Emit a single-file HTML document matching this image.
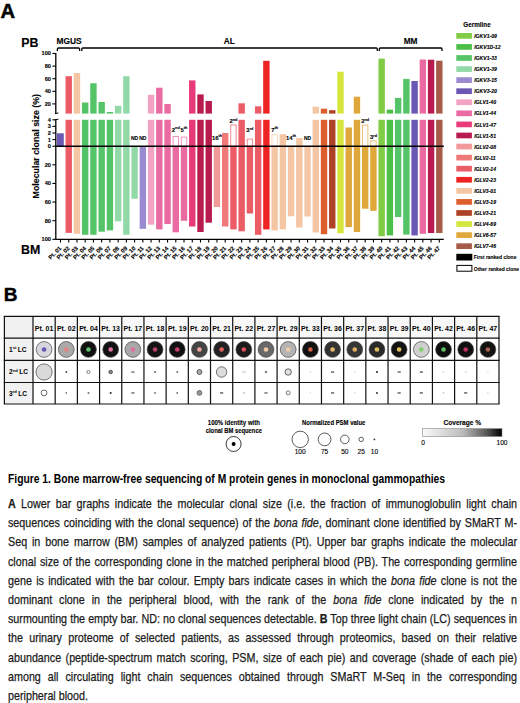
<!DOCTYPE html>
<html><head><meta charset="utf-8"><style>
html,body{margin:0;padding:0;background:#fff;}
body{width:520px;height:703px;position:relative;overflow:hidden;font-family:"Liberation Sans", sans-serif;color:#000;}
svg{position:absolute;left:0;top:0;}
svg text{font-family:"Liberation Sans", sans-serif;fill:#000;stroke:#000;stroke-width:0.12px;}
.cl{position:absolute;left:8.2px;width:606.63px;font-size:12.8px;line-height:14px;height:14px;transform:scaleX(0.8390624999999999);transform-origin:0 0;color:#1a1a1a;-webkit-text-stroke:0.25px #1a1a1a;}
.ttl{position:absolute;left:8.2px;top:471.8px;font-size:12px;line-height:14px;font-weight:bold;white-space:nowrap;transform:scaleX(0.859);transform-origin:0 0;color:#000;}
</style></head><body>
<svg width="520" height="703" viewBox="0 0 520 703">
<rect x="56.9" y="133.3" width="6.9" height="12.90" fill="#6a58b4"/>
<rect x="65.53" y="76.2" width="6.4" height="37.40" fill="#ec5c66"/>
<rect x="65.53" y="119.8" width="6.4" height="26.40" fill="#ec5c66"/>
<rect x="65.53" y="146.2" width="6.4" height="86.70" fill="#ec5c66"/>
<rect x="73.77" y="73.0" width="6.4" height="40.60" fill="#f5c6a4"/>
<rect x="73.77" y="119.8" width="6.4" height="26.40" fill="#f5c6a4"/>
<rect x="73.77" y="146.2" width="6.4" height="87.60" fill="#f5c6a4"/>
<rect x="82.00" y="102.5" width="6.4" height="11.10" fill="#55c468"/>
<rect x="82.00" y="119.8" width="6.4" height="26.40" fill="#55c468"/>
<rect x="82.00" y="146.2" width="6.4" height="88.60" fill="#55c468"/>
<rect x="90.24" y="83.3" width="6.4" height="30.30" fill="#55c468"/>
<rect x="90.24" y="119.8" width="6.4" height="26.40" fill="#55c468"/>
<rect x="90.24" y="146.2" width="6.4" height="88.60" fill="#55c468"/>
<rect x="98.47" y="102.0" width="6.4" height="11.60" fill="#55c468"/>
<rect x="98.47" y="119.8" width="6.4" height="26.40" fill="#55c468"/>
<rect x="98.47" y="146.2" width="6.4" height="85.50" fill="#55c468"/>
<rect x="106.71" y="112.0" width="6.4" height="1.60" fill="#55c468"/>
<rect x="106.71" y="119.8" width="6.4" height="26.40" fill="#55c468"/>
<rect x="106.71" y="146.2" width="6.4" height="84.20" fill="#55c468"/>
<rect x="114.94" y="105.8" width="6.4" height="7.80" fill="#92d9a8"/>
<rect x="114.94" y="119.8" width="6.4" height="26.40" fill="#92d9a8"/>
<rect x="114.94" y="146.2" width="6.4" height="75.10" fill="#92d9a8"/>
<rect x="123.18" y="76.2" width="6.4" height="37.40" fill="#92d9a8"/>
<rect x="123.18" y="119.8" width="6.4" height="26.40" fill="#92d9a8"/>
<rect x="123.18" y="146.2" width="6.4" height="88.60" fill="#92d9a8"/>
<rect x="131.41" y="146.2" width="6.4" height="52.60" fill="#92d9a8"/>
<text x="131.01" y="139.50" font-size="5.4" font-weight="bold" textLength="7.2" lengthAdjust="spacingAndGlyphs">ND</text>
<rect x="139.65" y="146.2" width="6.4" height="82.60" fill="#9a8ad0"/>
<text x="139.25" y="139.50" font-size="5.4" font-weight="bold" textLength="7.2" lengthAdjust="spacingAndGlyphs">ND</text>
<rect x="147.88" y="94.8" width="6.4" height="18.80" fill="#f2a2c2"/>
<rect x="147.88" y="119.8" width="6.4" height="26.40" fill="#f2a2c2"/>
<rect x="147.88" y="146.2" width="6.4" height="78.40" fill="#f2a2c2"/>
<rect x="156.12" y="87.7" width="6.4" height="25.90" fill="#ea6aa2"/>
<rect x="156.12" y="119.8" width="6.4" height="26.40" fill="#ea6aa2"/>
<rect x="156.12" y="146.2" width="6.4" height="83.20" fill="#ea6aa2"/>
<rect x="164.35" y="104.0" width="6.4" height="9.60" fill="#ea6aa2"/>
<rect x="164.35" y="119.8" width="6.4" height="26.40" fill="#ea6aa2"/>
<rect x="164.35" y="146.2" width="6.4" height="77.80" fill="#ea6aa2"/>
<rect x="173.09" y="136.5" width="5.4" height="9.70" fill="#fff" stroke="#ea6aa2" stroke-width="0.9" stroke-opacity="0.8"/>
<rect x="172.59" y="146.2" width="6.4" height="86.10" fill="#ea6aa2"/>
<text x="175.79" y="131.50" font-size="5.9" font-weight="bold" text-anchor="middle">2<tspan font-size="3.8" dy="-2.1">nd</tspan></text>
<rect x="181.32" y="137.1" width="5.4" height="9.10" fill="#fff" stroke="#ea6aa2" stroke-width="0.9" stroke-opacity="0.8"/>
<rect x="180.82" y="146.2" width="6.4" height="74.60" fill="#ea6aa2"/>
<text x="184.02" y="131.50" font-size="5.9" font-weight="bold" text-anchor="middle">5<tspan font-size="3.8" dy="-2.1">th</tspan></text>
<rect x="189.06" y="80.4" width="6.4" height="33.20" fill="#e83a78"/>
<rect x="189.06" y="119.8" width="6.4" height="26.40" fill="#e83a78"/>
<rect x="189.06" y="146.2" width="6.4" height="80.30" fill="#e83a78"/>
<rect x="197.30" y="94.4" width="6.4" height="19.20" fill="#b81c4e"/>
<rect x="197.30" y="119.8" width="6.4" height="26.40" fill="#b81c4e"/>
<rect x="197.30" y="146.2" width="6.4" height="85.80" fill="#b81c4e"/>
<rect x="205.53" y="101.0" width="6.4" height="12.60" fill="#b81c4e"/>
<rect x="205.53" y="119.8" width="6.4" height="26.40" fill="#b81c4e"/>
<rect x="205.53" y="146.2" width="6.4" height="76.50" fill="#b81c4e"/>
<rect x="213.76" y="146.2" width="6.4" height="60.80" fill="#f29a9a"/>
<text x="216.96" y="139.50" font-size="5.9" font-weight="bold" text-anchor="middle">16<tspan font-size="3.8" dy="-2.1">th</tspan></text>
<rect x="222.00" y="133.0" width="6.4" height="13.20" fill="#f07a7a"/>
<rect x="222.00" y="146.2" width="6.4" height="80.30" fill="#f07a7a"/>
<rect x="230.74" y="125.0" width="5.4" height="21.20" fill="#fff" stroke="#ec5c66" stroke-width="0.9" stroke-opacity="0.8"/>
<rect x="230.24" y="146.2" width="6.4" height="83.20" fill="#ec5c66"/>
<text x="233.44" y="123.00" font-size="5.9" font-weight="bold" text-anchor="middle">2<tspan font-size="3.8" dy="-2.1">nd</tspan></text>
<rect x="238.47" y="103.3" width="6.4" height="10.30" fill="#ec5c66"/>
<rect x="238.47" y="119.8" width="6.4" height="26.40" fill="#ec5c66"/>
<rect x="238.47" y="146.2" width="6.4" height="85.10" fill="#ec5c66"/>
<rect x="247.20" y="139.1" width="5.4" height="7.10" fill="#fff" stroke="#ec5c66" stroke-width="0.9" stroke-opacity="0.8"/>
<rect x="246.70" y="146.2" width="6.4" height="67.30" fill="#ec5c66"/>
<text x="249.90" y="131.60" font-size="5.9" font-weight="bold" text-anchor="middle">3<tspan font-size="3.8" dy="-2.1">rd</tspan></text>
<rect x="254.94" y="106.3" width="6.4" height="7.30" fill="#ec5c66"/>
<rect x="254.94" y="119.8" width="6.4" height="26.40" fill="#ec5c66"/>
<rect x="254.94" y="146.2" width="6.4" height="88.60" fill="#ec5c66"/>
<rect x="263.18" y="60.8" width="6.4" height="52.80" fill="#ee2424"/>
<rect x="263.18" y="119.8" width="6.4" height="26.40" fill="#ee2424"/>
<rect x="263.18" y="146.2" width="6.4" height="83.20" fill="#ee2424"/>
<rect x="271.91" y="134.7" width="5.4" height="11.50" fill="#fff" stroke="#f5c6a4" stroke-width="0.9" stroke-opacity="0.8"/>
<rect x="271.41" y="146.2" width="6.4" height="84.20" fill="#f5c6a4"/>
<text x="274.61" y="131.50" font-size="5.9" font-weight="bold" text-anchor="middle">7<tspan font-size="3.8" dy="-2.1">th</tspan></text>
<rect x="279.64" y="134.2" width="6.4" height="12.00" fill="#f5c6a4"/>
<rect x="279.64" y="146.2" width="6.4" height="83.20" fill="#f5c6a4"/>
<rect x="287.88" y="146.2" width="6.4" height="70.10" fill="#f5c6a4"/>
<text x="291.08" y="139.50" font-size="5.9" font-weight="bold" text-anchor="middle">14<tspan font-size="3.8" dy="-2.1">th</tspan></text>
<rect x="296.12" y="138.0" width="6.4" height="8.20" fill="#f5c6a4"/>
<rect x="296.12" y="146.2" width="6.4" height="81.30" fill="#f5c6a4"/>
<rect x="304.35" y="146.2" width="6.4" height="70.30" fill="#f5c6a4"/>
<text x="303.95" y="139.50" font-size="5.4" font-weight="bold" textLength="7.2" lengthAdjust="spacingAndGlyphs">ND</text>
<rect x="312.58" y="106.7" width="6.4" height="6.90" fill="#f5c6a4"/>
<rect x="312.58" y="119.8" width="6.4" height="26.40" fill="#f5c6a4"/>
<rect x="312.58" y="146.2" width="6.4" height="86.30" fill="#f5c6a4"/>
<rect x="320.82" y="108.7" width="6.4" height="4.90" fill="#de5e2e"/>
<rect x="320.82" y="119.8" width="6.4" height="26.40" fill="#de5e2e"/>
<rect x="320.82" y="146.2" width="6.4" height="88.00" fill="#de5e2e"/>
<rect x="329.06" y="110.2" width="6.4" height="3.40" fill="#ae4226"/>
<rect x="329.06" y="119.8" width="6.4" height="26.40" fill="#ae4226"/>
<rect x="329.06" y="146.2" width="6.4" height="82.30" fill="#ae4226"/>
<rect x="337.29" y="71.7" width="6.4" height="41.90" fill="#d6e63c"/>
<rect x="337.29" y="119.8" width="6.4" height="26.40" fill="#d6e63c"/>
<rect x="337.29" y="146.2" width="6.4" height="87.10" fill="#d6e63c"/>
<rect x="345.52" y="127.5" width="6.4" height="18.70" fill="#e0a83a"/>
<rect x="345.52" y="146.2" width="6.4" height="80.90" fill="#e0a83a"/>
<rect x="353.76" y="96.7" width="6.4" height="16.90" fill="#e0a83a"/>
<rect x="353.76" y="119.8" width="6.4" height="26.40" fill="#e0a83a"/>
<rect x="353.76" y="146.2" width="6.4" height="85.80" fill="#e0a83a"/>
<rect x="362.50" y="125.1" width="5.4" height="21.10" fill="#fff" stroke="#e0a83a" stroke-width="0.9" stroke-opacity="0.8"/>
<rect x="362.00" y="146.2" width="6.4" height="62.50" fill="#e0a83a"/>
<text x="365.19" y="122.80" font-size="5.9" font-weight="bold" text-anchor="middle">2<tspan font-size="3.8" dy="-2.1">nd</tspan></text>
<rect x="370.73" y="140.9" width="5.4" height="5.30" fill="#fff" stroke="#e0a83a" stroke-width="0.9" stroke-opacity="0.8"/>
<rect x="370.23" y="146.2" width="6.4" height="64.60" fill="#e0a83a"/>
<text x="373.43" y="139.20" font-size="5.9" font-weight="bold" text-anchor="middle">3<tspan font-size="3.8" dy="-2.1">rd</tspan></text>
<rect x="378.46" y="58.6" width="6.4" height="55.00" fill="#80cc44"/>
<rect x="378.46" y="119.8" width="6.4" height="26.40" fill="#80cc44"/>
<rect x="378.46" y="146.2" width="6.4" height="90.00" fill="#80cc44"/>
<rect x="386.70" y="109.6" width="6.4" height="4.00" fill="#4cbf48"/>
<rect x="386.70" y="119.8" width="6.4" height="26.40" fill="#4cbf48"/>
<rect x="386.70" y="146.2" width="6.4" height="89.20" fill="#4cbf48"/>
<rect x="394.94" y="97.9" width="6.4" height="15.70" fill="#55c468"/>
<rect x="394.94" y="119.8" width="6.4" height="26.40" fill="#55c468"/>
<rect x="394.94" y="146.2" width="6.4" height="70.80" fill="#55c468"/>
<rect x="403.17" y="78.9" width="6.4" height="34.70" fill="#55c468"/>
<rect x="403.17" y="119.8" width="6.4" height="26.40" fill="#55c468"/>
<rect x="403.17" y="146.2" width="6.4" height="88.40" fill="#55c468"/>
<rect x="411.40" y="81.0" width="6.4" height="32.60" fill="#6a58b4"/>
<rect x="411.40" y="119.8" width="6.4" height="26.40" fill="#6a58b4"/>
<rect x="411.40" y="146.2" width="6.4" height="89.20" fill="#6a58b4"/>
<rect x="419.64" y="59.5" width="6.4" height="54.10" fill="#ea6aa2"/>
<rect x="419.64" y="119.8" width="6.4" height="26.40" fill="#ea6aa2"/>
<rect x="419.64" y="146.2" width="6.4" height="87.60" fill="#ea6aa2"/>
<rect x="427.88" y="59.7" width="6.4" height="53.90" fill="#b81c4e"/>
<rect x="427.88" y="119.8" width="6.4" height="26.40" fill="#b81c4e"/>
<rect x="427.88" y="146.2" width="6.4" height="86.80" fill="#b81c4e"/>
<rect x="436.11" y="60.7" width="6.4" height="52.90" fill="#a85a48"/>
<rect x="436.11" y="119.8" width="6.4" height="26.40" fill="#a85a48"/>
<rect x="436.11" y="146.2" width="6.4" height="86.80" fill="#a85a48"/>
<line x1="55.8" y1="146.2" x2="443.8" y2="146.2" stroke="#000" stroke-width="1.5"/>
<line x1="55.8" y1="53.0" x2="55.8" y2="113.6" stroke="#000" stroke-width="1.3"/>
<line x1="55.8" y1="119.8" x2="55.8" y2="239.3" stroke="#000" stroke-width="1.3"/>
<line x1="54.8" y1="113.6" x2="58.4" y2="113.0" stroke="#000" stroke-width="1"/>
<line x1="54.8" y1="119.8" x2="58.4" y2="119.2" stroke="#000" stroke-width="1"/>
<line x1="52.4" y1="53.50" x2="55.8" y2="53.50" stroke="#000" stroke-width="1.1"/>
<text x="50.9" y="55.40" font-size="5.6" font-weight="bold" text-anchor="end">100</text>
<line x1="52.4" y1="66.10" x2="55.8" y2="66.10" stroke="#000" stroke-width="1.1"/>
<text x="50.9" y="68.00" font-size="5.6" font-weight="bold" text-anchor="end">80</text>
<line x1="52.4" y1="78.70" x2="55.8" y2="78.70" stroke="#000" stroke-width="1.1"/>
<text x="50.9" y="80.60" font-size="5.6" font-weight="bold" text-anchor="end">60</text>
<line x1="52.4" y1="91.30" x2="55.8" y2="91.30" stroke="#000" stroke-width="1.1"/>
<text x="50.9" y="93.20" font-size="5.6" font-weight="bold" text-anchor="end">40</text>
<line x1="52.4" y1="103.90" x2="55.8" y2="103.90" stroke="#000" stroke-width="1.1"/>
<text x="50.9" y="105.80" font-size="5.6" font-weight="bold" text-anchor="end">20</text>
<line x1="52.4" y1="119.80" x2="55.8" y2="119.80" stroke="#000" stroke-width="1.1"/>
<text x="50.9" y="121.70" font-size="5.6" font-weight="bold" text-anchor="end">4</text>
<line x1="52.4" y1="126.40" x2="55.8" y2="126.40" stroke="#000" stroke-width="1.1"/>
<text x="50.9" y="128.30" font-size="5.6" font-weight="bold" text-anchor="end">3</text>
<line x1="52.4" y1="133.00" x2="55.8" y2="133.00" stroke="#000" stroke-width="1.1"/>
<text x="50.9" y="134.90" font-size="5.6" font-weight="bold" text-anchor="end">2</text>
<line x1="52.4" y1="139.60" x2="55.8" y2="139.60" stroke="#000" stroke-width="1.1"/>
<text x="50.9" y="141.50" font-size="5.6" font-weight="bold" text-anchor="end">1</text>
<line x1="52.4" y1="146.20" x2="55.8" y2="146.20" stroke="#000" stroke-width="1.1"/>
<text x="50.9" y="148.10" font-size="5.6" font-weight="bold" text-anchor="end">0</text>
<line x1="52.4" y1="164.82" x2="55.8" y2="164.82" stroke="#000" stroke-width="1.1"/>
<text x="50.9" y="166.72" font-size="5.6" font-weight="bold" text-anchor="end">20</text>
<line x1="52.4" y1="183.44" x2="55.8" y2="183.44" stroke="#000" stroke-width="1.1"/>
<text x="50.9" y="185.34" font-size="5.6" font-weight="bold" text-anchor="end">40</text>
<line x1="52.4" y1="202.06" x2="55.8" y2="202.06" stroke="#000" stroke-width="1.1"/>
<text x="50.9" y="203.96" font-size="5.6" font-weight="bold" text-anchor="end">60</text>
<line x1="52.4" y1="220.68" x2="55.8" y2="220.68" stroke="#000" stroke-width="1.1"/>
<text x="50.9" y="222.58" font-size="5.6" font-weight="bold" text-anchor="end">80</text>
<line x1="52.4" y1="239.30" x2="55.8" y2="239.30" stroke="#000" stroke-width="1.1"/>
<text x="50.9" y="241.20" font-size="5.6" font-weight="bold" text-anchor="end">100</text>
<line x1="55.199999999999996" y1="239.3" x2="443.8" y2="239.3" stroke="#000" stroke-width="1.3"/>
<line x1="60.50" y1="239.3" x2="60.50" y2="242.5" stroke="#000" stroke-width="1.1"/>
<text transform="translate(61.80,248.70000000000002) rotate(-45)" font-size="5.8" font-weight="bold" text-anchor="end">Pt. 01</text>
<line x1="68.73" y1="239.3" x2="68.73" y2="242.5" stroke="#000" stroke-width="1.1"/>
<text transform="translate(70.03,248.70000000000002) rotate(-45)" font-size="5.8" font-weight="bold" text-anchor="end">Pt. 02</text>
<line x1="76.97" y1="239.3" x2="76.97" y2="242.5" stroke="#000" stroke-width="1.1"/>
<text transform="translate(78.27,248.70000000000002) rotate(-45)" font-size="5.8" font-weight="bold" text-anchor="end">Pt. 03</text>
<line x1="85.20" y1="239.3" x2="85.20" y2="242.5" stroke="#000" stroke-width="1.1"/>
<text transform="translate(86.50,248.70000000000002) rotate(-45)" font-size="5.8" font-weight="bold" text-anchor="end">Pt. 04</text>
<line x1="93.44" y1="239.3" x2="93.44" y2="242.5" stroke="#000" stroke-width="1.1"/>
<text transform="translate(94.74,248.70000000000002) rotate(-45)" font-size="5.8" font-weight="bold" text-anchor="end">Pt. 05</text>
<line x1="101.67" y1="239.3" x2="101.67" y2="242.5" stroke="#000" stroke-width="1.1"/>
<text transform="translate(102.97,248.70000000000002) rotate(-45)" font-size="5.8" font-weight="bold" text-anchor="end">Pt. 06</text>
<line x1="109.91" y1="239.3" x2="109.91" y2="242.5" stroke="#000" stroke-width="1.1"/>
<text transform="translate(111.21,248.70000000000002) rotate(-45)" font-size="5.8" font-weight="bold" text-anchor="end">Pt. 07</text>
<line x1="118.14" y1="239.3" x2="118.14" y2="242.5" stroke="#000" stroke-width="1.1"/>
<text transform="translate(119.44,248.70000000000002) rotate(-45)" font-size="5.8" font-weight="bold" text-anchor="end">Pt. 08</text>
<line x1="126.38" y1="239.3" x2="126.38" y2="242.5" stroke="#000" stroke-width="1.1"/>
<text transform="translate(127.68,248.70000000000002) rotate(-45)" font-size="5.8" font-weight="bold" text-anchor="end">Pt. 09</text>
<line x1="134.61" y1="239.3" x2="134.61" y2="242.5" stroke="#000" stroke-width="1.1"/>
<text transform="translate(135.91,248.70000000000002) rotate(-45)" font-size="5.8" font-weight="bold" text-anchor="end">Pt. 10</text>
<line x1="142.85" y1="239.3" x2="142.85" y2="242.5" stroke="#000" stroke-width="1.1"/>
<text transform="translate(144.15,248.70000000000002) rotate(-45)" font-size="5.8" font-weight="bold" text-anchor="end">Pt. 11</text>
<line x1="151.08" y1="239.3" x2="151.08" y2="242.5" stroke="#000" stroke-width="1.1"/>
<text transform="translate(152.38,248.70000000000002) rotate(-45)" font-size="5.8" font-weight="bold" text-anchor="end">Pt. 12</text>
<line x1="159.32" y1="239.3" x2="159.32" y2="242.5" stroke="#000" stroke-width="1.1"/>
<text transform="translate(160.62,248.70000000000002) rotate(-45)" font-size="5.8" font-weight="bold" text-anchor="end">Pt. 13</text>
<line x1="167.55" y1="239.3" x2="167.55" y2="242.5" stroke="#000" stroke-width="1.1"/>
<text transform="translate(168.85,248.70000000000002) rotate(-45)" font-size="5.8" font-weight="bold" text-anchor="end">Pt. 14</text>
<line x1="175.79" y1="239.3" x2="175.79" y2="242.5" stroke="#000" stroke-width="1.1"/>
<text transform="translate(177.09,248.70000000000002) rotate(-45)" font-size="5.8" font-weight="bold" text-anchor="end">Pt. 15</text>
<line x1="184.02" y1="239.3" x2="184.02" y2="242.5" stroke="#000" stroke-width="1.1"/>
<text transform="translate(185.32,248.70000000000002) rotate(-45)" font-size="5.8" font-weight="bold" text-anchor="end">Pt. 16</text>
<line x1="192.26" y1="239.3" x2="192.26" y2="242.5" stroke="#000" stroke-width="1.1"/>
<text transform="translate(193.56,248.70000000000002) rotate(-45)" font-size="5.8" font-weight="bold" text-anchor="end">Pt. 17</text>
<line x1="200.50" y1="239.3" x2="200.50" y2="242.5" stroke="#000" stroke-width="1.1"/>
<text transform="translate(201.80,248.70000000000002) rotate(-45)" font-size="5.8" font-weight="bold" text-anchor="end">Pt. 18</text>
<line x1="208.73" y1="239.3" x2="208.73" y2="242.5" stroke="#000" stroke-width="1.1"/>
<text transform="translate(210.03,248.70000000000002) rotate(-45)" font-size="5.8" font-weight="bold" text-anchor="end">Pt. 19</text>
<line x1="216.96" y1="239.3" x2="216.96" y2="242.5" stroke="#000" stroke-width="1.1"/>
<text transform="translate(218.26,248.70000000000002) rotate(-45)" font-size="5.8" font-weight="bold" text-anchor="end">Pt. 20</text>
<line x1="225.20" y1="239.3" x2="225.20" y2="242.5" stroke="#000" stroke-width="1.1"/>
<text transform="translate(226.50,248.70000000000002) rotate(-45)" font-size="5.8" font-weight="bold" text-anchor="end">Pt. 21</text>
<line x1="233.44" y1="239.3" x2="233.44" y2="242.5" stroke="#000" stroke-width="1.1"/>
<text transform="translate(234.74,248.70000000000002) rotate(-45)" font-size="5.8" font-weight="bold" text-anchor="end">Pt. 22</text>
<line x1="241.67" y1="239.3" x2="241.67" y2="242.5" stroke="#000" stroke-width="1.1"/>
<text transform="translate(242.97,248.70000000000002) rotate(-45)" font-size="5.8" font-weight="bold" text-anchor="end">Pt. 23</text>
<line x1="249.90" y1="239.3" x2="249.90" y2="242.5" stroke="#000" stroke-width="1.1"/>
<text transform="translate(251.20,248.70000000000002) rotate(-45)" font-size="5.8" font-weight="bold" text-anchor="end">Pt. 24</text>
<line x1="258.14" y1="239.3" x2="258.14" y2="242.5" stroke="#000" stroke-width="1.1"/>
<text transform="translate(259.44,248.70000000000002) rotate(-45)" font-size="5.8" font-weight="bold" text-anchor="end">Pt. 25</text>
<line x1="266.38" y1="239.3" x2="266.38" y2="242.5" stroke="#000" stroke-width="1.1"/>
<text transform="translate(267.68,248.70000000000002) rotate(-45)" font-size="5.8" font-weight="bold" text-anchor="end">Pt. 26</text>
<line x1="274.61" y1="239.3" x2="274.61" y2="242.5" stroke="#000" stroke-width="1.1"/>
<text transform="translate(275.91,248.70000000000002) rotate(-45)" font-size="5.8" font-weight="bold" text-anchor="end">Pt. 27</text>
<line x1="282.84" y1="239.3" x2="282.84" y2="242.5" stroke="#000" stroke-width="1.1"/>
<text transform="translate(284.14,248.70000000000002) rotate(-45)" font-size="5.8" font-weight="bold" text-anchor="end">Pt. 28</text>
<line x1="291.08" y1="239.3" x2="291.08" y2="242.5" stroke="#000" stroke-width="1.1"/>
<text transform="translate(292.38,248.70000000000002) rotate(-45)" font-size="5.8" font-weight="bold" text-anchor="end">Pt. 29</text>
<line x1="299.31" y1="239.3" x2="299.31" y2="242.5" stroke="#000" stroke-width="1.1"/>
<text transform="translate(300.62,248.70000000000002) rotate(-45)" font-size="5.8" font-weight="bold" text-anchor="end">Pt. 30</text>
<line x1="307.55" y1="239.3" x2="307.55" y2="242.5" stroke="#000" stroke-width="1.1"/>
<text transform="translate(308.85,248.70000000000002) rotate(-45)" font-size="5.8" font-weight="bold" text-anchor="end">Pt. 31</text>
<line x1="315.78" y1="239.3" x2="315.78" y2="242.5" stroke="#000" stroke-width="1.1"/>
<text transform="translate(317.08,248.70000000000002) rotate(-45)" font-size="5.8" font-weight="bold" text-anchor="end">Pt. 32</text>
<line x1="324.02" y1="239.3" x2="324.02" y2="242.5" stroke="#000" stroke-width="1.1"/>
<text transform="translate(325.32,248.70000000000002) rotate(-45)" font-size="5.8" font-weight="bold" text-anchor="end">Pt. 33</text>
<line x1="332.25" y1="239.3" x2="332.25" y2="242.5" stroke="#000" stroke-width="1.1"/>
<text transform="translate(333.56,248.70000000000002) rotate(-45)" font-size="5.8" font-weight="bold" text-anchor="end">Pt. 34</text>
<line x1="340.49" y1="239.3" x2="340.49" y2="242.5" stroke="#000" stroke-width="1.1"/>
<text transform="translate(341.79,248.70000000000002) rotate(-45)" font-size="5.8" font-weight="bold" text-anchor="end">Pt. 35</text>
<line x1="348.72" y1="239.3" x2="348.72" y2="242.5" stroke="#000" stroke-width="1.1"/>
<text transform="translate(350.02,248.70000000000002) rotate(-45)" font-size="5.8" font-weight="bold" text-anchor="end">Pt. 36</text>
<line x1="356.96" y1="239.3" x2="356.96" y2="242.5" stroke="#000" stroke-width="1.1"/>
<text transform="translate(358.26,248.70000000000002) rotate(-45)" font-size="5.8" font-weight="bold" text-anchor="end">Pt. 37</text>
<line x1="365.19" y1="239.3" x2="365.19" y2="242.5" stroke="#000" stroke-width="1.1"/>
<text transform="translate(366.50,248.70000000000002) rotate(-45)" font-size="5.8" font-weight="bold" text-anchor="end">Pt. 38</text>
<line x1="373.43" y1="239.3" x2="373.43" y2="242.5" stroke="#000" stroke-width="1.1"/>
<text transform="translate(374.73,248.70000000000002) rotate(-45)" font-size="5.8" font-weight="bold" text-anchor="end">Pt. 39</text>
<line x1="381.66" y1="239.3" x2="381.66" y2="242.5" stroke="#000" stroke-width="1.1"/>
<text transform="translate(382.96,248.70000000000002) rotate(-45)" font-size="5.8" font-weight="bold" text-anchor="end">Pt. 40</text>
<line x1="389.90" y1="239.3" x2="389.90" y2="242.5" stroke="#000" stroke-width="1.1"/>
<text transform="translate(391.20,248.70000000000002) rotate(-45)" font-size="5.8" font-weight="bold" text-anchor="end">Pt. 41</text>
<line x1="398.13" y1="239.3" x2="398.13" y2="242.5" stroke="#000" stroke-width="1.1"/>
<text transform="translate(399.44,248.70000000000002) rotate(-45)" font-size="5.8" font-weight="bold" text-anchor="end">Pt. 42</text>
<line x1="406.37" y1="239.3" x2="406.37" y2="242.5" stroke="#000" stroke-width="1.1"/>
<text transform="translate(407.67,248.70000000000002) rotate(-45)" font-size="5.8" font-weight="bold" text-anchor="end">Pt. 43</text>
<line x1="414.60" y1="239.3" x2="414.60" y2="242.5" stroke="#000" stroke-width="1.1"/>
<text transform="translate(415.90,248.70000000000002) rotate(-45)" font-size="5.8" font-weight="bold" text-anchor="end">Pt. 44</text>
<line x1="422.84" y1="239.3" x2="422.84" y2="242.5" stroke="#000" stroke-width="1.1"/>
<text transform="translate(424.14,248.70000000000002) rotate(-45)" font-size="5.8" font-weight="bold" text-anchor="end">Pt. 45</text>
<line x1="431.07" y1="239.3" x2="431.07" y2="242.5" stroke="#000" stroke-width="1.1"/>
<text transform="translate(432.38,248.70000000000002) rotate(-45)" font-size="5.8" font-weight="bold" text-anchor="end">Pt. 46</text>
<line x1="439.31" y1="239.3" x2="439.31" y2="242.5" stroke="#000" stroke-width="1.1"/>
<text transform="translate(440.61,248.70000000000002) rotate(-45)" font-size="5.8" font-weight="bold" text-anchor="end">Pt. 47</text>
<path d="M57.4 50.9 V49.0 Q57.4 48.0 58.4 48.0 H78.6 Q79.6 48.0 79.6 49.0 V50.9" fill="none" stroke="#000" stroke-width="1.3"/>
<path d="M81.8 50.9 V49.0 Q81.8 48.0 82.8 48.0 H376.3 Q377.3 48.0 377.3 49.0 V50.9" fill="none" stroke="#000" stroke-width="1.3"/>
<path d="M379.3 50.9 V49.0 Q379.3 48.0 380.3 48.0 H441.0 Q442.0 48.0 442.0 49.0 V50.9" fill="none" stroke="#000" stroke-width="1.3"/>
<text x="69.05" y="43.9" font-size="8.4" font-weight="bold" text-anchor="middle">MGUS</text>
<text x="229.2" y="44.1" font-size="8.2" font-weight="bold" text-anchor="middle">AL</text>
<text x="410.6" y="44.0" font-size="8.3" font-weight="bold" text-anchor="middle">MM</text>
<text x="0.5" y="17.8" font-size="20.2" font-weight="bold" style="stroke-width:0.5px">A</text>
<text x="21.2" y="46.6" font-size="12.4" font-weight="bold">PB</text>
<text x="21.0" y="253.7" font-size="12.4" font-weight="bold">BM</text>
<text x="3.8" y="301" font-size="19" font-weight="bold" style="stroke-width:0.4px">B</text>
<text transform="translate(38.5,146.2) rotate(-90)" font-size="9.7" font-weight="bold" text-anchor="middle" textLength="104.5" lengthAdjust="spacingAndGlyphs">Molecular clonal size (%)</text>
<text x="477" y="27.1" font-size="6.3" font-weight="bold" text-anchor="middle">Germline</text>
<rect x="456.3" y="33.00" width="15.6" height="5.7" fill="#80cc44"/>
<text x="474.2" y="38.00" font-size="5.1" font-weight="bold" font-style="italic">IGKV1-09</text>
<rect x="456.3" y="44.07" width="15.6" height="5.7" fill="#4cbf48"/>
<text x="474.2" y="49.07" font-size="5.1" font-weight="bold" font-style="italic">IGKV1D-12</text>
<rect x="456.3" y="55.14" width="15.6" height="5.7" fill="#55c468"/>
<text x="474.2" y="60.14" font-size="5.1" font-weight="bold" font-style="italic">IGKV1-33</text>
<rect x="456.3" y="66.21" width="15.6" height="5.7" fill="#92d9a8"/>
<text x="474.2" y="71.21" font-size="5.1" font-weight="bold" font-style="italic">IGKV1-39</text>
<rect x="456.3" y="77.28" width="15.6" height="5.7" fill="#9a8ad0"/>
<text x="474.2" y="82.28" font-size="5.1" font-weight="bold" font-style="italic">IGKV3-15</text>
<rect x="456.3" y="88.35" width="15.6" height="5.7" fill="#6a58b4"/>
<text x="474.2" y="93.35" font-size="5.1" font-weight="bold" font-style="italic">IGKV3-20</text>
<rect x="456.3" y="99.42" width="15.6" height="5.7" fill="#f2a2c2"/>
<text x="474.2" y="104.42" font-size="5.1" font-weight="bold" font-style="italic">IGLV1-40</text>
<rect x="456.3" y="110.49" width="15.6" height="5.7" fill="#ea6aa2"/>
<text x="474.2" y="115.49" font-size="5.1" font-weight="bold" font-style="italic">IGLV1-44</text>
<rect x="456.3" y="121.56" width="15.6" height="5.7" fill="#e83a78"/>
<text x="474.2" y="126.56" font-size="5.1" font-weight="bold" font-style="italic">IGLV1-47</text>
<rect x="456.3" y="132.63" width="15.6" height="5.7" fill="#b81c4e"/>
<text x="474.2" y="137.63" font-size="5.1" font-weight="bold" font-style="italic">IGLV1-51</text>
<rect x="456.3" y="143.70" width="15.6" height="5.7" fill="#f29a9a"/>
<text x="474.2" y="148.70" font-size="5.1" font-weight="bold" font-style="italic">IGLV2-08</text>
<rect x="456.3" y="154.77" width="15.6" height="5.7" fill="#f07a7a"/>
<text x="474.2" y="159.77" font-size="5.1" font-weight="bold" font-style="italic">IGLV2-11</text>
<rect x="456.3" y="165.84" width="15.6" height="5.7" fill="#ec5c66"/>
<text x="474.2" y="170.84" font-size="5.1" font-weight="bold" font-style="italic">IGLV2-14</text>
<rect x="456.3" y="176.91" width="15.6" height="5.7" fill="#ee2424"/>
<text x="474.2" y="181.91" font-size="5.1" font-weight="bold" font-style="italic">IGLV2-23</text>
<rect x="456.3" y="187.98" width="15.6" height="5.7" fill="#f5c6a4"/>
<text x="474.2" y="192.98" font-size="5.1" font-weight="bold" font-style="italic">IGLV3-01</text>
<rect x="456.3" y="199.05" width="15.6" height="5.7" fill="#de5e2e"/>
<text x="474.2" y="204.05" font-size="5.1" font-weight="bold" font-style="italic">IGLV3-19</text>
<rect x="456.3" y="210.12" width="15.6" height="5.7" fill="#ae4226"/>
<text x="474.2" y="215.12" font-size="5.1" font-weight="bold" font-style="italic">IGLV3-21</text>
<rect x="456.3" y="221.19" width="15.6" height="5.7" fill="#d6e63c"/>
<text x="474.2" y="226.19" font-size="5.1" font-weight="bold" font-style="italic">IGLV4-69</text>
<rect x="456.3" y="232.26" width="15.6" height="5.7" fill="#e0a83a"/>
<text x="474.2" y="237.26" font-size="5.1" font-weight="bold" font-style="italic">IGLV6-57</text>
<rect x="456.3" y="243.33" width="15.6" height="5.7" fill="#a85a48"/>
<text x="474.2" y="248.33" font-size="5.1" font-weight="bold" font-style="italic">IGLV7-46</text>
<rect x="456.3" y="253.8" width="16" height="6.7" fill="#000"/>
<text x="473.8" y="259.4" font-size="5.6" font-weight="bold" textLength="42.6" lengthAdjust="spacingAndGlyphs">First ranked clone</text>
<rect x="456.9" y="265.4" width="15" height="5.8" fill="#fff" stroke="#000" stroke-width="1"/>
<text x="473.8" y="270.6" font-size="5.6" font-weight="bold" textLength="45.2" lengthAdjust="spacingAndGlyphs">Other ranked clone</text>
<rect x="4.4" y="316.4" width="28.6" height="21.80000000000001" fill="#f1f1f1"/>
<rect x="4.4" y="338.2" width="28.6" height="22.19999999999999" fill="#f1f1f1"/>
<rect x="4.4" y="360.4" width="28.6" height="22.100000000000023" fill="#f1f1f1"/>
<rect x="4.4" y="382.5" width="28.6" height="21.5" fill="#f1f1f1"/>
<rect x="33.0" y="316.4" width="465.99" height="21.80000000000001" fill="#f8f8f8"/>
<line x1="3.8000000000000003" y1="316.4" x2="499.59000000000003" y2="316.4" stroke="#111" stroke-width="1.2"/>
<line x1="3.8000000000000003" y1="338.2" x2="499.59000000000003" y2="338.2" stroke="#111" stroke-width="1.2"/>
<line x1="3.8000000000000003" y1="360.4" x2="499.59000000000003" y2="360.4" stroke="#111" stroke-width="1.2"/>
<line x1="3.8000000000000003" y1="382.5" x2="499.59000000000003" y2="382.5" stroke="#111" stroke-width="1.2"/>
<line x1="3.8000000000000003" y1="404.0" x2="499.59000000000003" y2="404.0" stroke="#111" stroke-width="1.2"/>
<line x1="33.00" y1="316.4" x2="33.00" y2="404.0" stroke="#111" stroke-width="1.2"/>
<line x1="55.19" y1="316.4" x2="55.19" y2="404.0" stroke="#111" stroke-width="1.2"/>
<line x1="77.38" y1="316.4" x2="77.38" y2="404.0" stroke="#111" stroke-width="1.2"/>
<line x1="99.57" y1="316.4" x2="99.57" y2="404.0" stroke="#111" stroke-width="1.2"/>
<line x1="121.76" y1="316.4" x2="121.76" y2="404.0" stroke="#111" stroke-width="1.2"/>
<line x1="143.95" y1="316.4" x2="143.95" y2="404.0" stroke="#111" stroke-width="1.2"/>
<line x1="166.14" y1="316.4" x2="166.14" y2="404.0" stroke="#111" stroke-width="1.2"/>
<line x1="188.33" y1="316.4" x2="188.33" y2="404.0" stroke="#111" stroke-width="1.2"/>
<line x1="210.52" y1="316.4" x2="210.52" y2="404.0" stroke="#111" stroke-width="1.2"/>
<line x1="232.71" y1="316.4" x2="232.71" y2="404.0" stroke="#111" stroke-width="1.2"/>
<line x1="254.90" y1="316.4" x2="254.90" y2="404.0" stroke="#111" stroke-width="1.2"/>
<line x1="277.09" y1="316.4" x2="277.09" y2="404.0" stroke="#111" stroke-width="1.2"/>
<line x1="299.28" y1="316.4" x2="299.28" y2="404.0" stroke="#111" stroke-width="1.2"/>
<line x1="321.47" y1="316.4" x2="321.47" y2="404.0" stroke="#111" stroke-width="1.2"/>
<line x1="343.66" y1="316.4" x2="343.66" y2="404.0" stroke="#111" stroke-width="1.2"/>
<line x1="365.85" y1="316.4" x2="365.85" y2="404.0" stroke="#111" stroke-width="1.2"/>
<line x1="388.04" y1="316.4" x2="388.04" y2="404.0" stroke="#111" stroke-width="1.2"/>
<line x1="410.23" y1="316.4" x2="410.23" y2="404.0" stroke="#111" stroke-width="1.2"/>
<line x1="432.42" y1="316.4" x2="432.42" y2="404.0" stroke="#111" stroke-width="1.2"/>
<line x1="454.61" y1="316.4" x2="454.61" y2="404.0" stroke="#111" stroke-width="1.2"/>
<line x1="476.80" y1="316.4" x2="476.80" y2="404.0" stroke="#111" stroke-width="1.2"/>
<line x1="498.99" y1="316.4" x2="498.99" y2="404.0" stroke="#111" stroke-width="1.2"/>
<line x1="4.4" y1="316.4" x2="4.4" y2="404.0" stroke="#111" stroke-width="1.2"/>
<text x="44.09" y="330.90" font-size="7.0" font-weight="bold" text-anchor="middle" style="stroke-width:0">Pt. 01</text>
<text x="66.28" y="330.90" font-size="7.0" font-weight="bold" text-anchor="middle" style="stroke-width:0">Pt. 02</text>
<text x="88.47" y="330.90" font-size="7.0" font-weight="bold" text-anchor="middle" style="stroke-width:0">Pt. 04</text>
<text x="110.67" y="330.90" font-size="7.0" font-weight="bold" text-anchor="middle" style="stroke-width:0">Pt. 13</text>
<text x="132.86" y="330.90" font-size="7.0" font-weight="bold" text-anchor="middle" style="stroke-width:0">Pt. 17</text>
<text x="155.04" y="330.90" font-size="7.0" font-weight="bold" text-anchor="middle" style="stroke-width:0">Pt. 18</text>
<text x="177.24" y="330.90" font-size="7.0" font-weight="bold" text-anchor="middle" style="stroke-width:0">Pt. 19</text>
<text x="199.43" y="330.90" font-size="7.0" font-weight="bold" text-anchor="middle" style="stroke-width:0">Pt. 20</text>
<text x="221.62" y="330.90" font-size="7.0" font-weight="bold" text-anchor="middle" style="stroke-width:0">Pt. 21</text>
<text x="243.81" y="330.90" font-size="7.0" font-weight="bold" text-anchor="middle" style="stroke-width:0">Pt. 22</text>
<text x="266.00" y="330.90" font-size="7.0" font-weight="bold" text-anchor="middle" style="stroke-width:0">Pt. 27</text>
<text x="288.19" y="330.90" font-size="7.0" font-weight="bold" text-anchor="middle" style="stroke-width:0">Pt. 29</text>
<text x="310.38" y="330.90" font-size="7.0" font-weight="bold" text-anchor="middle" style="stroke-width:0">Pt. 33</text>
<text x="332.57" y="330.90" font-size="7.0" font-weight="bold" text-anchor="middle" style="stroke-width:0">Pt. 36</text>
<text x="354.76" y="330.90" font-size="7.0" font-weight="bold" text-anchor="middle" style="stroke-width:0">Pt. 37</text>
<text x="376.95" y="330.90" font-size="7.0" font-weight="bold" text-anchor="middle" style="stroke-width:0">Pt. 38</text>
<text x="399.14" y="330.90" font-size="7.0" font-weight="bold" text-anchor="middle" style="stroke-width:0">Pt. 39</text>
<text x="421.33" y="330.90" font-size="7.0" font-weight="bold" text-anchor="middle" style="stroke-width:0">Pt. 40</text>
<text x="443.52" y="330.90" font-size="7.0" font-weight="bold" text-anchor="middle" style="stroke-width:0">Pt. 42</text>
<text x="465.71" y="330.90" font-size="7.0" font-weight="bold" text-anchor="middle" style="stroke-width:0">Pt. 46</text>
<text x="487.90" y="330.90" font-size="7.0" font-weight="bold" text-anchor="middle" style="stroke-width:0">Pt. 47</text>
<text x="9" y="351.60" font-size="6.6" font-weight="bold" style="stroke-width:0">1<tspan font-size="4.2" dy="-2.2">st</tspan><tspan dy="2.2" dx="-0.5"> LC</tspan></text>
<text x="9" y="373.75" font-size="6.6" font-weight="bold" style="stroke-width:0">2<tspan font-size="4.2" dy="-2.2">nd</tspan><tspan dy="2.2" dx="-0.5"> LC</tspan></text>
<text x="9" y="395.55" font-size="6.6" font-weight="bold" style="stroke-width:0">3<tspan font-size="4.2" dy="-2.2">rd</tspan><tspan dy="2.2" dx="-0.5"> LC</tspan></text>
<circle cx="44.09" cy="349.45" r="7.9" fill="#d6d6dc" stroke="#444" stroke-width="0.7"/>
<circle cx="44.09" cy="349.45" r="2.3" fill="#6a58b4"/>
<circle cx="44.09" cy="372.00" r="8.1" fill="#dadada" stroke="#555" stroke-width="0.8"/>
<circle cx="44.09" cy="392.90" r="2.9" fill="#fff" stroke="#444" stroke-width="0.8"/>
<circle cx="66.28" cy="349.45" r="7.9" fill="#a9a9a9" stroke="#444" stroke-width="0.7"/>
<circle cx="66.28" cy="349.45" r="2.3" fill="#e08484"/>
<circle cx="66.28" cy="372.00" r="1.0" fill="#555"/>
<circle cx="66.28" cy="392.90" r="0.8" fill="#666"/>
<circle cx="88.47" cy="349.45" r="7.9" fill="#111" stroke="#444" stroke-width="0.7"/>
<circle cx="88.47" cy="349.45" r="2.3" fill="#60c070"/>
<circle cx="88.47" cy="372.00" r="1.6" fill="#fff" stroke="#666" stroke-width="0.8"/>
<circle cx="88.47" cy="392.90" r="1.0" fill="#777"/>
<circle cx="110.67" cy="349.45" r="7.9" fill="#111" stroke="#444" stroke-width="0.7"/>
<circle cx="110.67" cy="349.45" r="2.3" fill="#e070a0"/>
<circle cx="110.67" cy="372.00" r="1.8" fill="#888" stroke="#444" stroke-width="0.8"/>
<circle cx="110.67" cy="392.90" r="1.0" fill="#222"/>
<circle cx="132.86" cy="349.45" r="7.9" fill="#a8a8a8" stroke="#444" stroke-width="0.7"/>
<circle cx="132.86" cy="349.45" r="2.3" fill="#e070a0"/>
<rect x="131.26" y="371.50" width="3.2" height="1.1" fill="#444"/>
<rect x="131.26" y="392.40" width="3.2" height="1.1" fill="#444"/>
<circle cx="155.04" cy="349.45" r="7.9" fill="#141414" stroke="#444" stroke-width="0.7"/>
<circle cx="155.04" cy="349.45" r="2.3" fill="#b84068"/>
<circle cx="155.04" cy="372.00" r="1.0" fill="#666"/>
<circle cx="155.04" cy="392.90" r="0.9" fill="#666"/>
<circle cx="177.24" cy="349.45" r="7.9" fill="#111" stroke="#444" stroke-width="0.7"/>
<circle cx="177.24" cy="349.45" r="2.3" fill="#c84070"/>
<circle cx="177.24" cy="372.00" r="1.0" fill="#777"/>
<circle cx="177.24" cy="392.90" r="0.9" fill="#666"/>
<circle cx="199.43" cy="349.45" r="7.9" fill="#444" stroke="#444" stroke-width="0.7"/>
<circle cx="199.43" cy="349.45" r="2.3" fill="#f0a8a0"/>
<circle cx="199.43" cy="372.00" r="2.5" fill="#aaa" stroke="#444" stroke-width="0.8"/>
<circle cx="199.43" cy="392.90" r="2.4" fill="#999" stroke="#555" stroke-width="0.8"/>
<circle cx="221.62" cy="349.45" r="7.9" fill="#222" stroke="#444" stroke-width="0.7"/>
<circle cx="221.62" cy="349.45" r="2.3" fill="#e06060"/>
<circle cx="221.62" cy="372.00" r="5.2" fill="#dcdcdc" stroke="#555" stroke-width="0.8"/>
<rect x="220.02" y="392.40" width="3.2" height="1.1" fill="#333"/>
<circle cx="243.81" cy="349.45" r="7.9" fill="#1c1c1c" stroke="#444" stroke-width="0.7"/>
<circle cx="243.81" cy="349.45" r="2.3" fill="#e05060"/>
<rect x="242.21" y="371.50" width="3.2" height="1.1" fill="#bbb"/>
<circle cx="243.81" cy="392.90" r="0.9" fill="#bbb"/>
<circle cx="266.00" cy="349.45" r="7.9" fill="#686868" stroke="#444" stroke-width="0.7"/>
<circle cx="266.00" cy="349.45" r="2.3" fill="#f2caa8"/>
<circle cx="266.00" cy="372.00" r="1.1" fill="#555"/>
<rect x="264.39" y="392.40" width="3.2" height="1.1" fill="#444"/>
<circle cx="288.19" cy="349.45" r="7.9" fill="#b4b4b4" stroke="#444" stroke-width="0.7"/>
<circle cx="288.19" cy="349.45" r="2.3" fill="#f2caa8"/>
<circle cx="288.19" cy="372.00" r="3.2" fill="#e0e0e0" stroke="#444" stroke-width="0.8"/>
<circle cx="288.19" cy="392.90" r="2.0" fill="#fff" stroke="#555" stroke-width="0.8"/>
<circle cx="310.38" cy="349.45" r="7.9" fill="#111" stroke="#444" stroke-width="0.7"/>
<circle cx="310.38" cy="349.45" r="2.3" fill="#d06040"/>
<circle cx="310.38" cy="372.00" r="0.8" fill="#ccc"/>
<circle cx="310.38" cy="392.90" r="0.8" fill="#ddd"/>
<circle cx="332.57" cy="349.45" r="7.9" fill="#333" stroke="#444" stroke-width="0.7"/>
<circle cx="332.57" cy="349.45" r="2.3" fill="#e6b868"/>
<rect x="330.97" y="371.50" width="3.2" height="1.1" fill="#333"/>
<rect x="330.97" y="392.40" width="3.2" height="1.1" fill="#333"/>
<circle cx="354.76" cy="349.45" r="7.9" fill="#363636" stroke="#444" stroke-width="0.7"/>
<circle cx="354.76" cy="349.45" r="2.3" fill="#e4b060"/>
<circle cx="354.76" cy="372.00" r="0.8" fill="#ddd"/>
<circle cx="354.76" cy="392.90" r="0.8" fill="#ddd"/>
<circle cx="376.95" cy="349.45" r="7.9" fill="#2a2a2a" stroke="#444" stroke-width="0.7"/>
<circle cx="376.95" cy="349.45" r="2.3" fill="#dcc060"/>
<circle cx="376.95" cy="372.00" r="1.0" fill="#222"/>
<circle cx="376.95" cy="392.90" r="1.0" fill="#333"/>
<circle cx="399.14" cy="349.45" r="7.9" fill="#121212" stroke="#444" stroke-width="0.7"/>
<circle cx="399.14" cy="349.45" r="2.3" fill="#e2c060"/>
<rect x="397.54" y="371.50" width="3.2" height="1.1" fill="#333"/>
<rect x="397.54" y="392.40" width="3.2" height="1.1" fill="#333"/>
<circle cx="421.33" cy="349.45" r="7.9" fill="#d0d0d0" stroke="#444" stroke-width="0.7"/>
<circle cx="421.33" cy="349.45" r="2.3" fill="#80d070"/>
<rect x="419.73" y="371.50" width="3.2" height="1.1" fill="#333"/>
<rect x="419.73" y="392.40" width="3.2" height="1.1" fill="#333"/>
<circle cx="443.52" cy="349.45" r="7.9" fill="#0e0e0e" stroke="#444" stroke-width="0.7"/>
<circle cx="443.52" cy="349.45" r="2.3" fill="#60c060"/>
<circle cx="443.52" cy="372.00" r="0.9" fill="#ddd"/>
<circle cx="443.52" cy="392.90" r="0.9" fill="#ccc"/>
<circle cx="465.71" cy="349.45" r="7.9" fill="#101010" stroke="#444" stroke-width="0.7"/>
<circle cx="465.71" cy="349.45" r="2.3" fill="#c03060"/>
<circle cx="465.71" cy="372.00" r="0.9" fill="#ddd"/>
<rect x="464.11" y="392.40" width="3.2" height="1.1" fill="#333"/>
<circle cx="487.90" cy="349.45" r="7.9" fill="#121212" stroke="#444" stroke-width="0.7"/>
<circle cx="487.90" cy="349.45" r="2.3" fill="#a86050"/>
<circle cx="487.90" cy="372.00" r="0.8" fill="#ddd"/>
<circle cx="487.90" cy="392.90" r="0.8" fill="#ddd"/>
<text x="207.8" y="425.2" font-size="6.9" font-weight="bold" textLength="52.1" lengthAdjust="spacingAndGlyphs">100% identity with</text>
<text x="205.7" y="432.5" font-size="6.9" font-weight="bold" textLength="56.2" lengthAdjust="spacingAndGlyphs">clonal BM sequence</text>
<circle cx="233.6" cy="444" r="7.5" fill="#fff" stroke="#222" stroke-width="0.9"/>
<circle cx="233.6" cy="444" r="2.0" fill="#000"/>
<text x="302.1" y="424.6" font-size="6.6" font-weight="bold" textLength="63.2" lengthAdjust="spacingAndGlyphs">Normalized PSM value</text>
<circle cx="300.2" cy="439.4" r="8.2" fill="#fff" stroke="#333" stroke-width="0.8"/>
<text x="300.2" y="453.5" font-size="6.6" text-anchor="middle">100</text>
<circle cx="324.6" cy="439.4" r="6.4" fill="#fff" stroke="#333" stroke-width="0.8"/>
<text x="324.6" y="453.5" font-size="6.6" text-anchor="middle">75</text>
<circle cx="344.8" cy="439.4" r="4.3" fill="#fff" stroke="#333" stroke-width="0.8"/>
<text x="344.8" y="453.5" font-size="6.6" text-anchor="middle">50</text>
<circle cx="361.2" cy="439.4" r="2.2" fill="#fff" stroke="#333" stroke-width="0.8"/>
<text x="361.2" y="453.5" font-size="6.6" text-anchor="middle">25</text>
<circle cx="374.4" cy="439.4" r="0.9" fill="#333"/>
<text x="374.4" y="453.5" font-size="6.6" text-anchor="middle">10</text>
<text x="462.3" y="425.4" font-size="6.6" font-weight="bold" text-anchor="middle">Coverage %</text>
<defs><linearGradient id="g" x1="0" x2="1"><stop offset="0" stop-color="#fbfbfb"/><stop offset="0.5" stop-color="#bdbdbd"/><stop offset="0.8" stop-color="#5a5a5a"/><stop offset="1" stop-color="#000"/></linearGradient></defs>
<rect x="422.6" y="428.6" width="79.4" height="8.0" fill="url(#g)" stroke="#888" stroke-width="0.6"/>
<text x="423.2" y="444.6" font-size="6.6" text-anchor="middle">0</text>
<text x="502" y="444.6" font-size="6.6" text-anchor="middle">100</text>
</svg>
<div class="ttl">Figure 1. Bone marrow-free sequencing of M protein genes in monoclonal gammopathies</div>
<div class="cl" style="top:496.95px;text-align:justify;text-align-last:justify"><b>A</b> Lower bar graphs indicate the molecular clonal size (i.e. the fraction of immunoglobulin light chain</div>
<div class="cl" style="top:516.15px;text-align:justify;text-align-last:justify">sequences coinciding with the clonal sequence) of the <i>bona fide</i>, dominant clone identified by SMaRT M-</div>
<div class="cl" style="top:535.35px;text-align:justify;text-align-last:justify">Seq in bone marrow (BM) samples of analyzed patients (Pt). Upper bar graphs indicate the molecular</div>
<div class="cl" style="top:554.55px;text-align:justify;text-align-last:justify">clonal size of the corresponding clone in the matched peripheral blood (PB). The corresponding germline</div>
<div class="cl" style="top:573.75px;text-align:justify;text-align-last:justify">gene is indicated with the bar colour. Empty bars indicate cases in which the <i>bona fide</i> clone is not the</div>
<div class="cl" style="top:592.95px;text-align:justify;text-align-last:justify">dominant clone in the peripheral blood, with the rank of the <i>bona fide</i> clone indicated by the n</div>
<div class="cl" style="top:612.15px;text-align:justify;text-align-last:justify">surmounting the empty bar. ND: no clonal sequences detectable. <b>B</b> Top three light chain (LC) sequences in</div>
<div class="cl" style="top:631.35px;text-align:justify;text-align-last:justify">the urinary proteome of selected patients, as assessed through proteomics, based on their relative</div>
<div class="cl" style="top:650.55px;text-align:justify;text-align-last:justify">abundance (peptide-spectrum match scoring, PSM, size of each pie) and coverage (shade of each pie)</div>
<div class="cl" style="top:669.75px;text-align:justify;text-align-last:justify">among all circulating light chain sequences obtained through SMaRT M-Seq in the corresponding</div>
<div class="cl" style="top:688.95px;text-align:left;text-align-last:left">peripheral blood.</div>
</body></html>
